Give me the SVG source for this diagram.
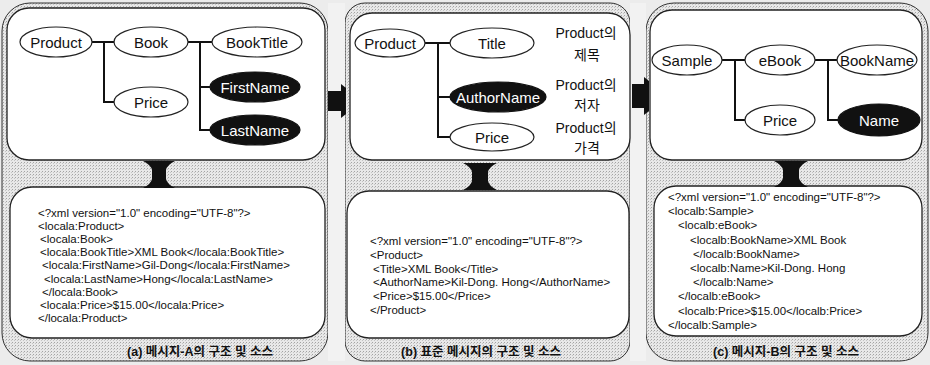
<svg xmlns="http://www.w3.org/2000/svg" width="930" height="365" viewBox="0 0 930 365">
<defs>
<pattern id="dots" width="3" height="3" patternUnits="userSpaceOnUse">
<rect width="3" height="3" fill="#e8e8e8"/>
<rect x="0" y="0" width="1" height="1" fill="#a4a4a4"/>
<rect x="2" y="1" width="1" height="1" fill="#c4c4c4"/>
</pattern>
</defs>
<style>
.panel{fill:url(#dots);stroke:#333;stroke-width:1}
.box{fill:#fff;stroke:#222;stroke-width:1.3}
.ell{fill:#fff;stroke:#222;stroke-width:1.2}
.blk{fill:#111;stroke:#111;stroke-width:1.2}
.nt{font-family:"Liberation Sans",Arial,sans-serif;font-size:15px;fill:#111;text-anchor:middle;dominant-baseline:central}
.wt{font-family:"Liberation Sans",Arial,sans-serif;font-size:15px;fill:#fff;text-anchor:middle;dominant-baseline:central}
.code{font-family:"Liberation Sans",Arial,sans-serif;font-size:11.5px;fill:#111}
.lbl{font-family:"Liberation Sans","Noto Sans CJK KR",sans-serif;font-size:14px;fill:#111;text-anchor:middle}
.cap{font-family:"Liberation Sans","Noto Sans CJK KR",sans-serif;font-size:12.5px;font-weight:bold;fill:#111;text-anchor:middle}
.ln{fill:none;stroke:#111;stroke-width:2}
.arr{fill:#111}
</style>
<rect width="930" height="365" fill="#ececec"/>
<rect class="panel" x="2" y="3" width="326" height="358" rx="28"/>
<rect class="panel" x="345" y="3" width="285" height="358" rx="20"/>
<rect class="panel" x="646" y="3" width="282" height="358" rx="28"/>
<rect x="328" y="3" width="17" height="358" fill="#f2f2f2"/>
<rect x="630" y="3" width="16" height="358" fill="#f2f2f2"/>

<g id="panel-a-top"><rect class="box" x="7" y="8" width="318" height="152" rx="22"/></g>
<g id="panel-b-top"><rect class="box" x="350" y="13" width="280" height="147" rx="22"/></g>
<g id="panel-c-top"><rect class="box" x="650" y="10" width="272" height="150" rx="22"/></g>
<g id="panel-a-code"><rect class="box" x="10" y="187" width="315" height="151" rx="22"/>
<text class="code" x="38" y="217">&lt;?xml version="1.0" encoding="UTF-8"?&gt;</text>
<text class="code" x="38" y="230.1">&lt;locala:Product&gt;</text>
<text class="code" x="40" y="243.2">&lt;locala:Book&gt;</text>
<text class="code" x="40" y="256.3">&lt;locala:BookTitle&gt;XML Book&lt;/locala:BookTitle&gt;</text>
<text class="code" x="42" y="269.4">&lt;locala:FirstName&gt;Gil-Dong&lt;/locala:FirstName&gt;</text>
<text class="code" x="44" y="282.5">&lt;locala:LastName&gt;Hong&lt;/locala:LastName&gt;</text>
<text class="code" x="42" y="295.6">&lt;/locala:Book&gt;</text>
<text class="code" x="40" y="308.7">&lt;locala:Price&gt;$15.00&lt;/locala:Price&gt;</text>
<text class="code" x="38" y="321.8">&lt;/locala:Product&gt;</text>
</g>
<g id="panel-b-code"><rect class="box" x="347" y="191" width="282" height="147" rx="22"/>
<text class="code" x="370" y="245">&lt;?xml version="1.0" encoding="UTF-8"?&gt;</text>
<text class="code" x="370" y="258.8">&lt;Product&gt;</text>
<text class="code" x="373" y="272.6">&lt;Title&gt;XML Book&lt;/Title&gt;</text>
<text class="code" x="373" y="286.4">&lt;AuthorName&gt;Kil-Dong. Hong&lt;/AuthorName&gt;</text>
<text class="code" x="373" y="300.2">&lt;Price&gt;$15.00&lt;/Price&gt;</text>
<text class="code" x="370" y="314">&lt;/Product&gt;</text>
</g>
<g id="panel-c-code"><rect class="box" x="654" y="186" width="268" height="150" rx="22"/>
<text class="code" x="668" y="201">&lt;?xml version="1.0" encoding="UTF-8"?&gt;</text>
<text class="code" x="668" y="215.2">&lt;localb:Sample&gt;</text>
<text class="code" x="678" y="229.4">&lt;localb:eBook&gt;</text>
<text class="code" x="690" y="243.6">&lt;localb:BookName&gt;XML Book</text>
<text class="code" x="693" y="257.8">&lt;/localb:BookName&gt;</text>
<text class="code" x="690" y="272">&lt;localb:Name&gt;Kil-Dong. Hong</text>
<text class="code" x="693" y="286.2">&lt;/localb:Name&gt;</text>
<text class="code" x="678" y="300.4">&lt;/localb:eBook&gt;</text>
<text class="code" x="678" y="314.6">&lt;localb:Price&gt;$15.00&lt;/localb:Price&gt;</text>
<text class="code" x="668" y="328.8">&lt;/localb:Sample&gt;</text>
</g>

<g id="connectors">
<path class="ln" d="M92,42 H115 M104,42 V102 H115"/>
<path class="ln" d="M188,42 H212 M200,42 V130 H210 M200,87 H210"/>
<path class="ln" d="M425,43 H450 M438,43 V137 H450 M438,97 H450"/>
<path class="ln" d="M722,60 H745 M735,60 V120 H745"/>
<path class="ln" d="M815,60 H838 M828,60 V120 H838"/>
<polygon class="arr" points="328,91 341,91 341,84 346,88 346,114 341,118 341,111 328,111"/>
<polygon class="arr" points="632,84 644,84 644,77 649,81 649,111 644,115 644,108 632,108"/>
<path class="arr" d="M143,161 H175 Q167,165 166,170 V179 Q167,184 175,188 H143 Q151,184 152,179 V170 Q151,165 143,161 Z"/>
<path class="arr" d="M463,163 H497 Q489,167 488,172 V181 Q489,186 497,190 H463 Q471,186 472,181 V172 Q471,167 463,163 Z"/>
<path class="arr" d="M774,161 H808 Q800,165 799,170 V178 Q800,183 808,187 H774 Q782,183 783,178 V170 Q782,165 774,161 Z"/>
</g>

<g id="a-product"><ellipse class="ell" cx="56" cy="42" rx="36" ry="15"/><text class="nt" x="56" y="42">Product</text></g>
<g id="a-book"><ellipse class="ell" cx="151" cy="42" rx="37" ry="15"/><text class="nt" x="151" y="42">Book</text></g>
<g id="a-booktitle"><ellipse class="ell" cx="257" cy="42" rx="45" ry="15"/><text class="nt" x="257" y="42">BookTitle</text></g>
<g id="a-price"><ellipse class="ell" cx="151" cy="102" rx="37" ry="15"/><text class="nt" x="151" y="102">Price</text></g>
<g id="a-firstname"><ellipse class="blk" cx="255" cy="87" rx="45" ry="15"/><text class="wt" x="255" y="87">FirstName</text></g>
<g id="a-lastname"><ellipse class="blk" cx="255" cy="130" rx="45" ry="15"/><text class="wt" x="255" y="130">LastName</text></g>

<g id="b-product"><ellipse class="ell" cx="390" cy="43" rx="35" ry="14"/><text class="nt" x="390" y="43">Product</text></g>
<g id="b-title"><ellipse class="ell" cx="492" cy="43" rx="42" ry="15"/><text class="nt" x="492" y="43">Title</text></g>
<g id="b-authorname"><ellipse class="blk" cx="498" cy="97" rx="48" ry="15"/><text class="wt" x="498" y="97">AuthorName</text></g>
<g id="b-price"><ellipse class="ell" cx="492" cy="137" rx="42" ry="14"/><text class="nt" x="492" y="137">Price</text></g>
<g id="b-labels">
<text class="lbl" x="586" y="38">Product의</text><text class="lbl" x="587" y="60">제목</text>
<text class="lbl" x="586" y="90">Product의</text><text class="lbl" x="587" y="110">저자</text>
<text class="lbl" x="586" y="133">Product의</text><text class="lbl" x="587" y="153">가격</text>
</g>

<g id="c-sample"><ellipse class="ell" cx="687" cy="60" rx="35" ry="15"/><text class="nt" x="687" y="60">Sample</text></g>
<g id="c-ebook"><ellipse class="ell" cx="780" cy="60" rx="35" ry="15"/><text class="nt" x="780" y="60">eBook</text></g>
<g id="c-bookname"><ellipse class="ell" cx="877" cy="60" rx="40" ry="15"/><text class="nt" x="877" y="60">BookName</text></g>
<g id="c-price"><ellipse class="ell" cx="780" cy="120" rx="35" ry="15"/><text class="nt" x="780" y="120">Price</text></g>
<g id="c-name"><ellipse class="blk" cx="879" cy="120" rx="41" ry="16"/><text class="wt" x="879" y="120">Name</text></g>

<g id="captions">
<text class="cap" x="200" y="356">(a) 메시지-A의 구조 및 소스</text>
<text class="cap" x="481" y="356">(b) 표준 메시지의 구조 및 소스</text>
<text class="cap" x="786" y="356">(c) 메시지-B의 구조 및 소스</text>
</g>
</svg>
